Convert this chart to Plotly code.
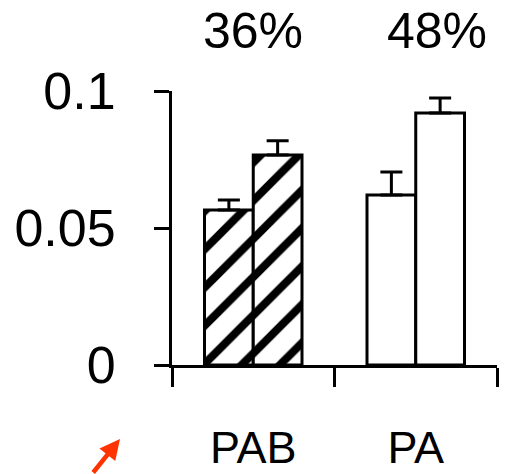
import plotly.graph_objects as go

categories = ["PAB", "PA"]
series_a = [0.0566, 0.0620]
series_a_err = [0.0036, 0.0084]
series_b = [0.0766, 0.0920]
series_b_err = [0.0052, 0.0054]
percent_labels = ["36%", "48%"]
percent_x = [0.0, 1.13]
y_ticks = [0, 0.05, 0.1]
y_tick_text = ["0", "0.05", "0.1"]
patterns = ["/", ""]

FONT = "Liberation Sans, Arial, Helvetica, sans-serif"

fig = go.Figure()
for vals, errs in [(series_a, series_a_err), (series_b, series_b_err)]:
    fig.add_trace(go.Bar(
        x=categories, y=vals,
        marker=dict(color="white", line=dict(color="black", width=3),
                    pattern=dict(shape=patterns, fgcolor="black", bgcolor="white",
                                 size=27, solidity=0.3, fillmode="replace")),
        error_y=dict(type="data", array=errs, arrayminus=[0] * len(errs),
                     color="black", thickness=3, width=11, visible=True),
        showlegend=False,
    ))

for txt, xv in zip(percent_labels, percent_x):
    fig.add_annotation(x=xv, xref="x", y=1.0, yref="paper", yshift=60,
                       text=txt, showarrow=False, yanchor="middle",
                       font=dict(size=50, color="black", family=FONT))

fig.add_annotation(x=-0.16, xref="paper", y=-0.27, yref="paper", text="",
                   showarrow=True, arrowhead=2, arrowsize=0.9, arrowwidth=4.5,
                   arrowcolor="#ff3300", ax=-28, ay=46)

fig.update_layout(
    width=507, height=474,
    margin=dict(l=172, r=10, t=91, b=109),
    paper_bgcolor="white", plot_bgcolor="white",
    barmode="group", bargap=0.4, bargroupgap=0,
    font=dict(family=FONT, color="black"),
    xaxis=dict(range=[-0.5, 1.5], tickson="boundaries", ticks="outside",
               ticklen=19, tickwidth=3, tickcolor="black",
               showline=True, linecolor="black", linewidth=3,
               showgrid=False, zeroline=False, automargin=False,
               tickfont=dict(size=45, family=FONT), ticklabelstandoff=41),
    yaxis=dict(range=[0, 0.1], tickvals=y_ticks, ticktext=y_tick_text,
               ticks="outside", ticklen=15, tickwidth=3, tickcolor="black",
               showline=True, linecolor="black", linewidth=3,
               showgrid=False, zeroline=False, automargin=False,
               tickfont=dict(size=52, family=FONT), ticklabelstandoff=28),
)

fig.write_html("out.html")
